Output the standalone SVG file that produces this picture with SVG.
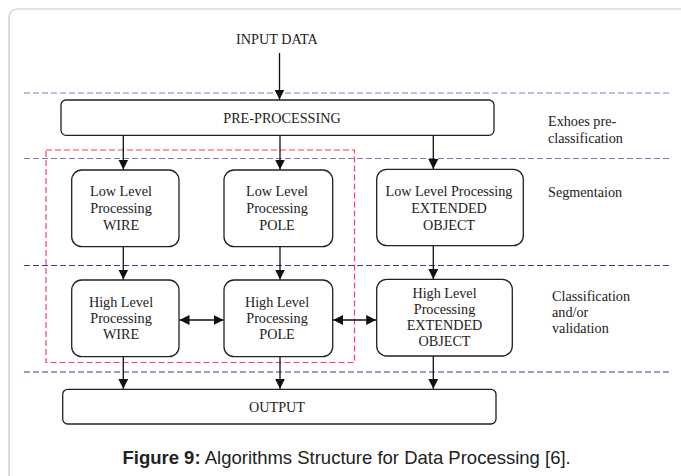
<svg xmlns="http://www.w3.org/2000/svg" width="681" height="476" viewBox="0 0 681 476">
<defs>
<marker id="ah" viewBox="0 0 10 10" markerUnits="userSpaceOnUse" markerWidth="10" markerHeight="11" refX="10" refY="5" orient="auto-start-reverse">
<path d="M0,0 L10,5 L0,10 z" fill="#111"/>
</marker>
<style>
.box{fill:#fff;stroke:#222;stroke-width:1.3}
.t{font-family:"Liberation Serif","Times New Roman",serif;font-size:14.2px;fill:#222;text-anchor:middle}
.lbl{font-family:"Liberation Serif","Times New Roman",serif;font-size:14.2px;fill:#222}
.blue1{stroke:#8078b4;stroke-width:1.1;stroke-dasharray:6 3;fill:none}
.blue2{stroke:#3c3a9c;stroke-width:1.1;stroke-dasharray:6 3;fill:none}
.red{stroke:#ff3c6a;stroke-width:1.2;stroke-dasharray:6 3;fill:none}
.ar{stroke:#111;stroke-width:1.3;fill:none;marker-end:url(#ah)}
.dar{stroke:#111;stroke-width:1.3;fill:none;marker-end:url(#ah);marker-start:url(#ah)}
</style>
</defs>
<rect x="0" y="0" width="681" height="476" fill="#fff"/>
<rect x="9" y="9" width="700" height="500" rx="8" fill="#fff" stroke="#c8c8c8" stroke-width="1.2"/>

<g id="guides">
<line class="blue1" x1="24" y1="93" x2="671" y2="93"/>
<line class="blue1" x1="24" y1="158.5" x2="671" y2="158.5"/>
<line class="blue2" x1="24" y1="265.5" x2="671" y2="265.5"/>
<line class="blue2" x1="24" y1="372" x2="671" y2="372"/>
<rect class="red" x="46" y="150" width="308.5" height="212.5"/>
</g>

<g id="input"><text class="t" x="277" y="44">INPUT DATA</text></g>

<g id="preprocessing">
<rect class="box" x="61" y="100" width="433" height="35.3" rx="5"/>
<text class="t" x="282" y="123">PRE-PROCESSING</text>
</g>

<g id="low-wire">
<rect class="box" x="71.7" y="170" width="107.3" height="76.7" rx="10"/>
<text class="t" x="121" y="196">Low Level</text>
<text class="t" x="121" y="213">Processing</text>
<text class="t" x="121" y="230">WIRE</text>
</g>
<g id="low-pole">
<rect class="box" x="224" y="170" width="108.7" height="76.7" rx="10"/>
<text class="t" x="277" y="196">Low Level</text>
<text class="t" x="277" y="213">Processing</text>
<text class="t" x="277" y="230">POLE</text>
</g>
<g id="low-extended">
<rect class="box" x="376.7" y="169.3" width="146.6" height="76.4" rx="10"/>
<text class="t" x="449" y="196">Low Level Processing</text>
<text class="t" x="449" y="213">EXTENDED</text>
<text class="t" x="449" y="230">OBJECT</text>
</g>

<g id="high-wire">
<rect class="box" x="71.7" y="280" width="107.3" height="76.7" rx="10"/>
<text class="t" x="121" y="306.5">High Level</text>
<text class="t" x="121" y="322.5">Processing</text>
<text class="t" x="121" y="338.5">WIRE</text>
</g>
<g id="high-pole">
<rect class="box" x="224" y="280" width="108.7" height="76.7" rx="10"/>
<text class="t" x="277" y="306.5">High Level</text>
<text class="t" x="277" y="322.5">Processing</text>
<text class="t" x="277" y="338.5">POLE</text>
</g>
<g id="high-extended">
<rect class="box" x="376.7" y="279.3" width="135.6" height="76.7" rx="10"/>
<text class="t" x="444.5" y="298">High Level</text>
<text class="t" x="444.5" y="314">Processing</text>
<text class="t" x="444.5" y="330">EXTENDED</text>
<text class="t" x="444.5" y="346">OBJECT</text>
</g>

<g id="output">
<rect class="box" x="62.7" y="389.3" width="433.3" height="34.7" rx="5"/>
<text class="t" x="277" y="411.5">OUTPUT</text>
</g>

<g id="stage-labels">
<text class="lbl" x="548" y="126">Exhoes pre-</text>
<text class="lbl" x="548" y="142.5">classification</text>
<text class="lbl" x="548" y="197">Segmentaion</text>
<text class="lbl" x="552" y="301">Classification</text>
<text class="lbl" x="552" y="317">and/or</text>
<text class="lbl" x="552" y="333">validation</text>
</g>

<g id="connectors">
<line class="ar" x1="279.5" y1="53" x2="279.5" y2="99.5"/>
<line class="ar" x1="123.3" y1="135.3" x2="123.3" y2="169.5"/>
<line class="ar" x1="280" y1="135.3" x2="280" y2="169.5"/>
<line class="ar" x1="433.3" y1="135.3" x2="433.3" y2="169"/>
<line class="ar" x1="123.3" y1="246.7" x2="123.3" y2="279.5"/>
<line class="ar" x1="280" y1="246.7" x2="280" y2="279.5"/>
<line class="ar" x1="433.3" y1="245.7" x2="433.3" y2="279"/>
<line class="dar" x1="179.5" y1="320" x2="223.5" y2="320"/>
<line class="dar" x1="333.2" y1="320" x2="376.2" y2="320"/>
<line class="ar" x1="123.3" y1="356.7" x2="123.3" y2="388.8"/>
<line class="ar" x1="280" y1="356.7" x2="280" y2="388.8"/>
<line class="ar" x1="433.3" y1="356" x2="433.3" y2="388.8"/>
</g>

<g id="caption">
<text x="346.6" y="463.5" text-anchor="middle" font-family="'Liberation Sans',Arial,sans-serif" font-size="18.5" fill="#222"><tspan font-weight="bold">Figure 9:</tspan> Algorithms Structure for Data Processing [6].</text>
</g>
</svg>
